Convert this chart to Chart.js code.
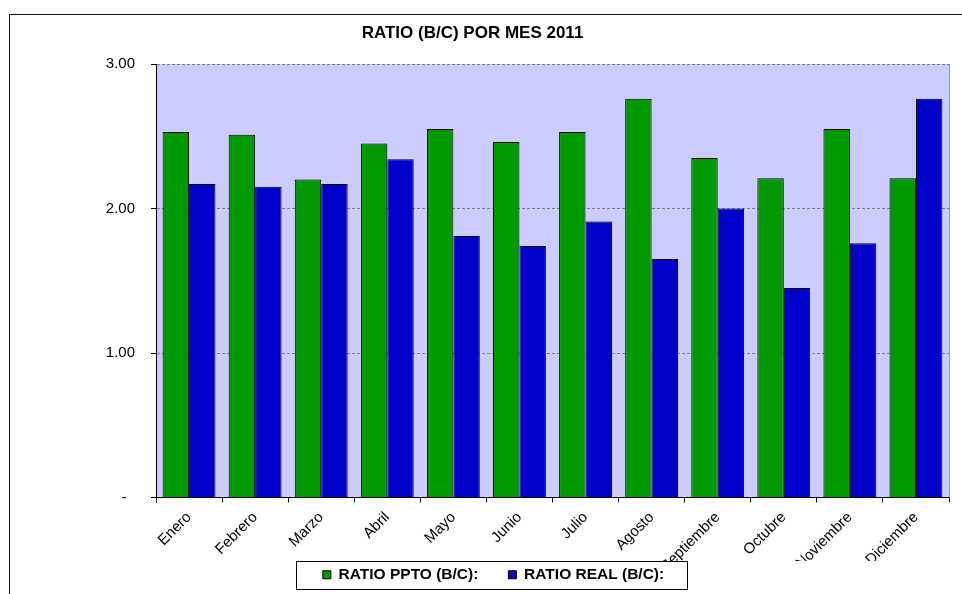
<!DOCTYPE html>
<html>
<head>
<meta charset="utf-8">
<script src="https://cdn.jsdelivr.net/npm/chart.js@4/dist/chart.umd.min.js"></script>
<style>
  html, body { margin: 0; padding: 0; background: #fff; }
  #wrap { width: 962px; height: 594px; }
</style>
</head>
<body>
<div id="wrap"><canvas id="c" width="962" height="594"></canvas></div>
<script>
// Months of 2011
const meses = ['Enero', 'Febrero', 'Marzo', 'Abril', 'Mayo', 'Junio', 'Julio',
  'Agosto', 'Septiembre', 'Octubre', 'Noviembre', 'Diciembre'];

// Budgeted benefit/cost ratio per month
const ratioPpto = [2.53, 2.51, 2.20, 2.45, 2.55, 2.46, 2.53, 2.76, 2.35, 2.21, 2.55, 2.21];

// Actual benefit/cost ratio per month
const ratioReal = [2.17, 2.15, 2.17, 2.34, 1.81, 1.74, 1.91, 1.65, 2.00, 1.45, 1.76, 2.76];

// Value axis tick values and their labels
const yTicks = [0, 1, 2, 3];
const yTickLabels = ['-  ', '1.00', '2.00', '3.00'];

const FONT = "'Liberation Sans', Arial, sans-serif";

// Legend frame geometry, worked out before drawing
let legendFrame = null;

// Plot background, frame, and the boxed legend
const frame = {
  id: 'frame',
  afterLayout(chart) {
    const t = chart.titleBlock;
    t.left -= 7; t.right -= 7;
    const lg = chart.legend;
    const dx = 14, dy = -1.5;
    lg.left += dx; lg.right += dx;
    lg.top += dy; lg.bottom += dy;
  },
  beforeDraw(chart) {
    const {ctx, chartArea: a} = chart;
    const boxes = chart.legend.legendHitBoxes || [];
    if (boxes.length) {
      const first = boxes[0], last = boxes[boxes.length - 1];
      const cy = first.top + first.height / 2;
      legendFrame = {
        top: Math.round(cy - 14) + 0.5,
        bottom: Math.round(cy + 14) + 0.5,
        left: Math.round(first.left - 27) + 0.5,
        right: Math.round(last.left + last.width + 23) + 0.5
      };
      // category labels run down to the legend frame and are cut there
      chart.scales.x.bottom = Math.round(cy - 14);
    }
    ctx.save();
    ctx.fillStyle = '#ffffff';
    ctx.fillRect(0, 0, chart.width, chart.height);
    ctx.fillStyle = '#CCCCFF';
    ctx.fillRect(a.left, a.top, a.right - a.left, a.bottom - a.top);
    ctx.restore();
  },
  afterDatasetsDraw(chart) {
    const {ctx, chartArea: a} = chart;
    ctx.save();
    ctx.strokeStyle = '#9a9a9a';
    ctx.lineWidth = 1;
    ctx.beginPath();
    ctx.moveTo(a.right + 0.5, a.top);
    ctx.lineTo(a.right + 0.5, a.bottom);
    ctx.stroke();
    ctx.restore();
  },
  afterDraw(chart) {
    const {ctx} = chart;
    ctx.save();
    if (legendFrame) {
      const f = legendFrame;
      ctx.fillStyle = '#ffffff';
      ctx.fillRect(f.left, f.top, f.right - f.left, f.bottom - f.top);
      ctx.strokeStyle = '#000000';
      ctx.lineWidth = 1;
      ctx.strokeRect(f.left, f.top, f.right - f.left, f.bottom - f.top);
    }
    // outer chart frame
    ctx.strokeStyle = '#111111';
    ctx.lineWidth = 1;
    ctx.strokeRect(9.5, 14.5, 2000, 2000);
    ctx.restore();
    chart.legend.draw();
  }
};

new Chart(document.getElementById('c'), {
  type: 'bar',
  data: {
    labels: meses,
    datasets: [
      {
        label: 'RATIO PPTO (B/C):',
        data: ratioPpto,
        backgroundColor: '#009900',
        borderColor: '#000000',
        borderWidth: 1,
        borderSkipped: 'start'
      },
      {
        label: 'RATIO REAL (B/C):',
        data: ratioReal,
        backgroundColor: '#0000CC',
        borderColor: '#000000',
        borderWidth: 1,
        borderSkipped: 'start'
      }
    ]
  },
  options: {
    responsive: false,
    animation: false,
    layout: { padding: { left: 10, top: 14, right: 13, bottom: 0 } },
    datasets: { bar: { categoryPercentage: 0.8, barPercentage: 1.0 } },
    plugins: {
      title: {
        display: true,
        text: 'RATIO (B/C) POR MES 2011',
        color: '#000',
        font: { family: FONT, size: 17, weight: 'bold' },
        padding: { top: 9, bottom: 20.6 }
      },
      legend: {
        display: true,
        position: 'bottom',
        labels: {
          color: '#000',
          font: { family: FONT, size: 15.5, weight: 'bold' },
          boxWidth: 8,
          boxHeight: 8,
          padding: 30
        }
      },
      tooltip: { enabled: false }
    },
    scales: {
      x: {
        offset: true,
        grid: {
          display: true,
          offset: true,
          drawOnChartArea: false,
          drawTicks: true,
          tickLength: 5,
          tickColor: '#000'
        },
        border: { display: true, color: '#000', width: 1 },
        ticks: {
          color: '#000',
          font: { family: FONT, size: 15 },
          minRotation: 45,
          maxRotation: 45,
          autoSkip: false,
          padding: 6
        },
        afterFit(scale) { scale.height = 41; }
      },
      y: {
        min: 0,
        max: 3,
        afterBuildTicks(scale) { scale.ticks = yTicks.map(v => ({ value: v })); },
        grid: {
          color: '#808080',
          lineWidth: 1,
          drawTicks: true,
          tickLength: 5,
          tickColor: '#000'
        },
        border: { display: true, color: '#000', width: 1, dash: [3, 2] },
        ticks: {
          color: '#000',
          font: { family: FONT, size: 15 },
          padding: 16,
          callback(value) {
            const i = yTicks.indexOf(value);
            return i >= 0 ? yTickLabels[i] : '';
          }
        },
        afterFit(scale) { scale.width = 146; }
      }
    }
  },
  plugins: [frame]
});
</script>
</body>
</html>
